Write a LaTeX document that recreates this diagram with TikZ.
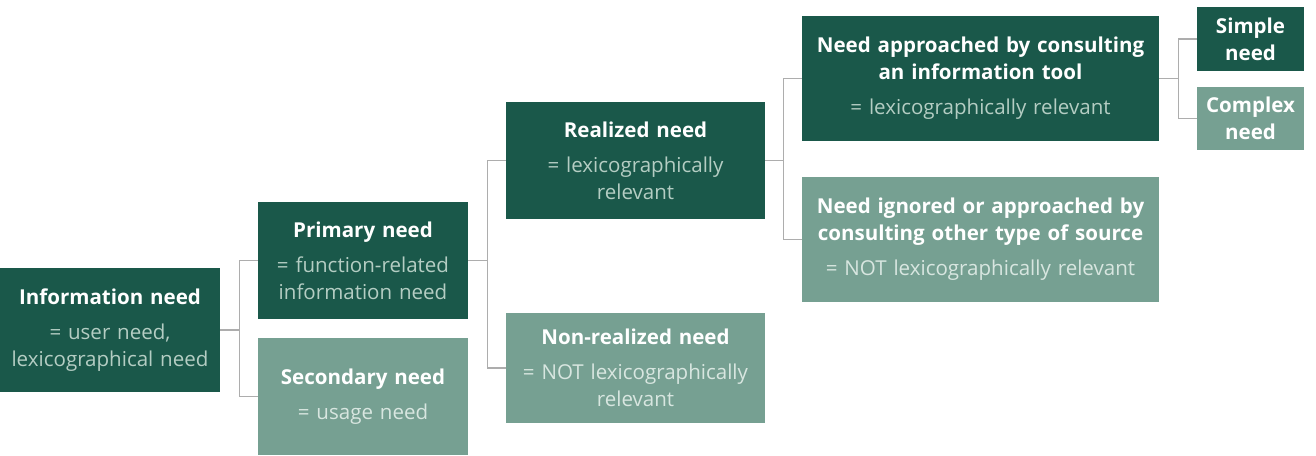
\documentclass[tikz,border=0pt]{standalone}
\usepackage{fontspec}
\setmainfont{Open Sans}
\usepackage{xcolor}
\definecolor{dgreen}{HTML}{1A584A}
\definecolor{lgreen}{HTML}{76A092}
\definecolor{dsub}{HTML}{B4CDC3}
\definecolor{lsub}{HTML}{D8E6E0}
\definecolor{wire}{HTML}{ADADAD}
\usetikzlibrary{positioning,calc}
\tikzset{
  need/.style={rectangle,inner sep=0pt,align=center,text=white,font=\fontsize{15.4}{20.3}\selectfont},
  dbox/.style={need,fill=dgreen},
  lbox/.style={need,fill=lgreen},
  conn/.style={draw=wire,line width=1.1pt},
}
\newcommand{\dsubt}[1]{{\color{dsub}#1}}
\newcommand{\lsubt}[1]{{\color{lsub}#1}}

\begin{document}
\begin{tikzpicture}[x=0.75pt,y=-0.75pt]
\useasboundingbox (0,0) rectangle (1316,455);
% level 1
\node[dbox,text width=165pt,minimum height=93pt] (info) at (110,330) {\textbf{Information need}\\[6pt]\dsubt{= user need,\\lexicographical need}};
% level 2
\node[dbox,text width=157.5pt,minimum height=87.75pt] (prim) at (363,260.5) {\textbf{Primary need}\\[6pt]\dsubt{= function-related\\information need}};
\node[lbox,text width=157.5pt,minimum height=87.75pt] (sec) at (363,396.5) {\textbf{Secondary need}\\[6pt]\lsubt{= usage need}};
% level 3
\node[dbox,text width=194.25pt,minimum height=87.75pt] (real) at (635.5,160.5) {\textbf{Realized need}\\[6pt]\dsubt{= lexicographically\\relevant}};
\node[lbox,text width=194.25pt,minimum height=82.5pt] (nonreal) at (635.5,368) {\textbf{Non-realized need}\\[6pt]\lsubt{= NOT lexicographically\\relevant}};
% level 4
\node[dbox,text width=267.75pt,minimum height=93.75pt] (appr) at (980.5,78.5) {\textbf{Need approached by consulting}\\\textbf{an information tool}\\[6pt]\dsubt{= lexicographically relevant}};
\node[lbox,text width=267.75pt,minimum height=93.75pt] (ign) at (980.5,239.5) {\textbf{Need ignored or approached by}\\\textbf{consulting other type of source}\\[6pt]\lsubt{= NOT lexicographically relevant}};
% level 5
\node[dbox,text width=80.25pt,minimum height=48pt] (simp) at (1250.5,39) {\textbf{Simple}\\\textbf{need}};
\node[lbox,text width=80.25pt,minimum height=47.25pt] (comp) at (1250.5,118.5) {\textbf{Complex}\\\textbf{need}};
% connectors
\draw[conn] (info.east) -- ++(19,0) coordinate (f1);
\draw[conn] (f1) |- (prim.west); \draw[conn] (f1) |- (sec.west);
\draw[conn] (prim.east) -- ++(19,0) coordinate (f2);
\draw[conn] (f2) |- (real.west); \draw[conn] (f2) |- (nonreal.west);
\draw[conn] (real.east) -- ++(18,0) coordinate (f3);
\draw[conn] (f3) |- (appr.west); \draw[conn] (f3) |- (ign.west);
\draw[conn] (appr.east) -- ++(19,0) coordinate (f4);
\draw[conn] (f4) |- (simp.west); \draw[conn] (f4) |- (comp.west);
\end{tikzpicture}
\end{document}
